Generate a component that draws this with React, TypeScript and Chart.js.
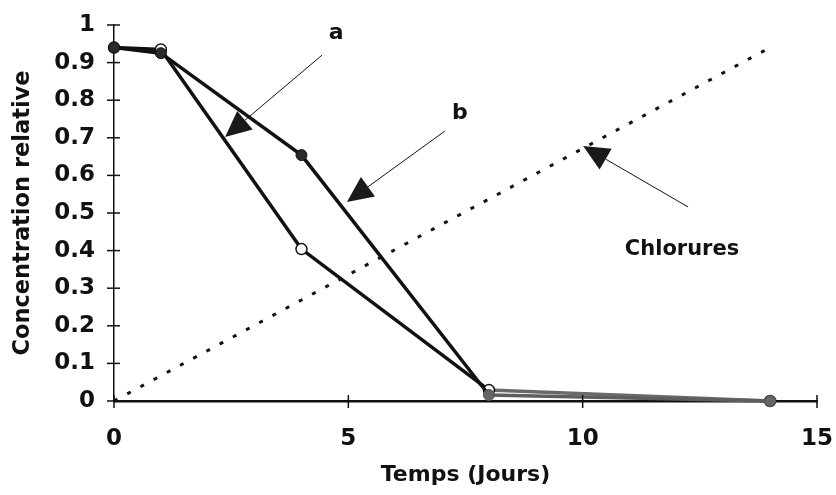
import React, { useEffect, useRef } from "react";
import { Chart, registerables } from "chart.js";

Chart.register(...registerables);

// Data
const days = [0, 1, 4, 8, 14];
const seriesA = [0.94, 0.925, 0.654, 0.016, 0.0]; // filled markers
const seriesB = [0.94, 0.935, 0.404, 0.029, 0.0]; // open markers
const chlorideDays = [0, 14];
const chlorideValues = [0, 0.94];

const xTitle = "Temps (Jours)";
const yTitle = "Concentration relative";

// Annotations (data coordinates)
const noteLabels = ["a", "b", "Chlorures"];
const noteLabelX = [4.74, 7.38, 12.12];
const noteLabelY = [0.979, 0.766, 0.402];
const arrowFromX = [4.44, 7.06, 12.25];
const arrowFromY = [0.92, 0.718, 0.516];
const arrowToX = [2.37, 4.97, 10.01];
const arrowToY = [0.702, 0.529, 0.678];

const FONT = "'DejaVu Sans', sans-serif";
const INK = "#111";

const toXY = (xs: number[], ys: number[]) => xs.map((x, i) => ({ x, y: ys[i] }));

const overlayPlugin = {
  id: "overlay",
  afterDraw(chart: any) {
    const ctx = chart.ctx;
    const xs = chart.scales.x;
    const ys = chart.scales.y;
    const area = chart.chartArea;
    ctx.save();
    // crossing tick marks
    ctx.strokeStyle = INK;
    ctx.lineWidth = 1.5;
    ys.ticks.forEach((t: any) => {
      const py = ys.getPixelForValue(t.value);
      ctx.beginPath();
      ctx.moveTo(area.left - 7, py);
      ctx.lineTo(area.left + 6, py);
      ctx.stroke();
    });
    xs.ticks.forEach((t: any) => {
      const px = xs.getPixelForValue(t.value);
      ctx.beginPath();
      ctx.moveTo(px, area.bottom - 6);
      ctx.lineTo(px, area.bottom + 7);
      ctx.stroke();
    });
    // arrows
    for (let i = 0; i < noteLabels.length; i++) {
      const x1 = xs.getPixelForValue(arrowFromX[i]);
      const y1 = ys.getPixelForValue(arrowFromY[i]);
      const x2 = xs.getPixelForValue(arrowToX[i]);
      const y2 = ys.getPixelForValue(arrowToY[i]);
      const ang = Math.atan2(y2 - y1, x2 - x1);
      const len = 26;
      const hw = 12;
      const bx = x2 - len * Math.cos(ang);
      const by = y2 - len * Math.sin(ang);
      ctx.strokeStyle = INK;
      ctx.lineWidth = 1;
      ctx.beginPath();
      ctx.moveTo(x1, y1);
      ctx.lineTo(bx, by);
      ctx.stroke();
      ctx.fillStyle = "#1a1a1a";
      ctx.beginPath();
      ctx.moveTo(x2, y2);
      ctx.lineTo(bx + hw * Math.sin(ang), by - hw * Math.cos(ang));
      ctx.lineTo(bx - hw * Math.sin(ang), by + hw * Math.cos(ang));
      ctx.closePath();
      ctx.fill();
      // label
      ctx.fillStyle = INK;
      ctx.font = `bold ${i === 2 ? 21 : 22}px ${FONT}`;
      ctx.textAlign = "center";
      ctx.textBaseline = "middle";
      ctx.fillText(
        noteLabels[i],
        xs.getPixelForValue(noteLabelX[i]),
        ys.getPixelForValue(noteLabelY[i])
      );
    }
    ctx.restore();
  },
};

export default function App() {
  const ref = useRef<HTMLCanvasElement>(null);
  useEffect(() => {
    if (!ref.current) return;
    const chart = new Chart(ref.current, {
      type: "line",
      data: {
        datasets: [
          {
            label: "a",
            data: toXY(days, seriesA),
            borderColor: INK,
            borderWidth: 3.5,
            pointRadius: 5.5,
            pointBackgroundColor: (c: any) => (c.parsed && c.parsed.x >= 8 ? "#666" : "#2a2a2a"),
            pointBorderColor: (c: any) => (c.parsed && c.parsed.x >= 8 ? "#555" : INK),
            pointBorderWidth: 1,
            segment: {
              borderColor: (c: any) => (c.p0.parsed.x >= 8 ? "#5e5e5e" : INK),
            },
            order: 0,
            clip: false,
          } as any,
          {
            label: "b",
            data: toXY(days, seriesB),
            borderColor: INK,
            borderWidth: 3.5,
            pointRadius: 5.5,
            pointBackgroundColor: "#fff",
            pointBorderColor: INK,
            pointBorderWidth: 1.5,
            segment: {
              borderColor: (c: any) => (c.p0.parsed.x >= 8 ? "#6a6a6a" : INK),
            },
            order: 1,
            clip: false,
          } as any,
          {
            label: "Chlorures",
            data: toXY(chlorideDays, chlorideValues),
            borderColor: INK,
            borderWidth: 3,
            borderDash: [4, 11],
            pointRadius: 0,
            order: 2,
            clip: false,
          } as any,
        ],
      },
      options: {
        animation: false,
        responsive: false,
        devicePixelRatio: 1,
        layout: { padding: { top: 25, right: 19, left: 0, bottom: 0 } },
        plugins: { legend: { display: false }, tooltip: { enabled: false } },
        scales: {
          x: {
            type: "linear",
            min: 0,
            max: 15,
            ticks: {
              stepSize: 5,
              color: INK,
              padding: 24,
              font: { family: FONT, size: 23, weight: "bold" },
            },
            grid: { display: false, drawTicks: false },
            border: { display: true, color: INK, width: 2.5 },
            title: {
              display: true,
              text: xTitle,
              color: INK,
              font: { family: FONT, size: 22, weight: "bold" },
              padding: { top: 0, bottom: 7 },
            },
            afterFit: (s: any) => {
              s.height = 94;
              s.paddingLeft = 0;
              s.paddingRight = 0;
            },
          },
          y: {
            type: "linear",
            min: 0,
            max: 1,
            ticks: {
              stepSize: 0.1,
              color: INK,
              padding: 19,
              font: { family: FONT, size: 23, weight: "bold" },
              callback: (v: any) => String(Math.round(Number(v) * 10) / 10),
            },
            grid: { display: false, drawTicks: false },
            border: { display: true, color: INK, width: 1.5 },
            title: {
              display: true,
              text: yTitle,
              color: INK,
              font: { family: FONT, size: 22.5, weight: "bold" },
              padding: { top: 10, bottom: 0 },
            },
            afterFit: (s: any) => {
              s.width = 114;
              s.paddingTop = 0;
              s.paddingBottom = 0;
            },
          },
        },
      } as any,
      plugins: [overlayPlugin],
    });
    return () => chart.destroy();
  }, []);
  return (
    <canvas
      ref={ref}
      width={836}
      height={495}
      style={{ position: "fixed", left: 0, top: 0, width: 836, height: 495, background: "#fff" }}
    />
  );
}
